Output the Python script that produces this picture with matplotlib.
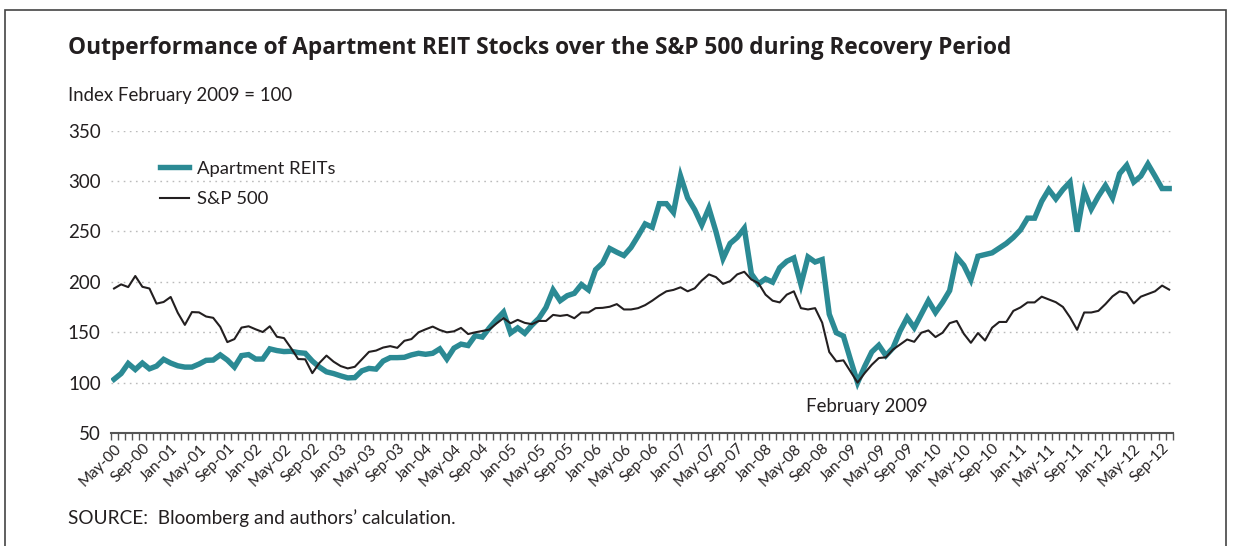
import matplotlib
matplotlib.use("Agg")
import matplotlib.pyplot as plt
from matplotlib.patches import Rectangle
from matplotlib.ticker import FixedLocator

plt.rcParams['font.family'] = ['Lato', 'DejaVu Sans']

title = "Outperformance of Apartment REIT Stocks over the S&P 500 during Recovery Period"
subtitle = "Index February 2009 = 100"
source = "SOURCE:  Bloomberg and authors\u2019 calculation."

# Monthly index values, May-2000 .. Oct-2012 (150 months)
apartment_reits = [
    103.3, 109.0, 119.0, 113.0, 119.4, 113.7, 116.4, 123.1, 119.4, 116.7,
    115.4, 115.4, 118.4, 122.1, 122.4, 127.5, 122.4, 115.4, 126.8, 127.8,
    123.4, 123.4, 133.5, 131.8, 130.8, 131.1, 129.8, 129.1, 121.4, 115.4,
    110.7, 109.0, 106.7, 104.7, 105.0, 111.7, 114.1, 113.4, 121.4, 124.8,
    124.8, 125.1, 127.5, 129.1, 128.1, 129.1, 133.5, 123.4, 134.2, 138.2,
    136.8, 146.6, 145.2, 154.3, 162.6, 170.0, 149.2, 154.3, 148.9, 157.0,
    163.9, 174.6, 192.0, 181.3, 186.3, 188.6, 197.3, 192.0, 212.0, 218.7,
    233.1, 229.4, 226.1, 234.1, 245.5, 257.5, 254.2, 277.6, 277.6, 268.9,
    305.0, 283.3, 271.6, 256.5, 273.2, 249.8, 223.1, 238.1, 244.1, 253.2,
    208.0, 198.0, 203.0, 199.7, 214.0, 220.4, 223.7, 197.3, 224.7, 219.7,
    222.1, 167.9, 149.5, 146.2, 122.7, 100.0, 116.0, 130.4, 137.1, 126.8,
    134.4, 151.2, 164.5, 154.5, 167.9, 181.3, 169.6, 179.6, 191.3, 224.7,
    216.4, 202.0, 225.4, 227.1, 228.8, 233.4, 238.1, 244.1, 251.5, 263.2,
    263.2, 279.9, 291.6, 282.3, 291.6, 299.0, 249.8, 290.0, 272.2, 284.9,
    295.7, 283.3, 307.4, 315.7, 299.0, 305.0, 317.0, 305.0, 292.6, 292.6,
]

sp500 = [
    193.4, 197.5, 194.8, 205.8, 195.1, 193.4, 178.4, 180.0, 185.0, 169.3,
    157.3, 170.0, 169.7, 165.6, 164.3, 155.3, 140.2, 143.2, 154.6, 155.9,
    152.9, 150.2, 155.9, 145.5, 144.2, 134.2, 123.4, 123.1, 109.4, 119.5,
    126.8, 120.8, 116.4, 114.1, 115.7, 123.1, 130.5, 131.8, 134.8, 136.2,
    134.5, 141.5, 143.2, 149.9, 152.9, 155.6, 152.2, 149.9, 150.9, 154.3,
    148.2, 149.9, 151.2, 152.6, 158.6, 164.0, 158.9, 162.3, 159.3, 158.0,
    161.2, 161.2, 167.2, 166.2, 167.2, 163.9, 169.6, 169.6, 173.9, 174.2,
    175.3, 177.9, 172.6, 172.6, 173.9, 176.9, 181.3, 186.3, 190.6, 192.0,
    194.6, 190.6, 193.6, 201.3, 207.4, 204.7, 198.0, 200.7, 207.4, 210.0,
    202.3, 198.7, 187.3, 181.3, 179.6, 187.3, 190.6, 173.9, 172.6, 173.9,
    159.5, 130.4, 121.1, 122.1, 111.0, 100.0, 109.4, 117.7, 124.4, 125.1,
    132.8, 137.8, 142.8, 140.5, 149.5, 151.8, 145.2, 149.5, 159.0, 161.2,
    148.5, 139.5, 149.2, 141.8, 154.5, 160.2, 160.2, 171.2, 174.6, 179.6,
    179.6, 185.3, 182.5, 179.8, 175.1, 164.8, 152.4, 169.6, 169.6, 171.2,
    177.9, 185.6, 190.6, 188.9, 178.6, 185.3, 188.0, 190.6, 196.3, 192.3,
]

tick_labels = [
    "May-00", "Sep-00", "Jan-01", "May-01", "Sep-01", "Jan-02", "May-02", "Sep-02",
    "Jan-03", "May-03", "Sep-03", "Jan-04", "May-04", "Sep-04", "Jan-05", "May-05",
    "Sep-05", "Jan-06", "May-06", "Sep-06", "Jan-07", "May-07", "Sep-07", "Jan-08",
    "May-08", "Sep-08", "Jan-09", "May-09", "Sep-09", "Jan-10", "May-10", "Sep-10",
    "Jan-11", "May-11", "Sep-11", "Jan-12", "May-12", "Sep-12",
]
trough_label = "February 2009"
trough_index = 105  # Feb-2009 position in the monthly series

teal = "#2B8A94"
dark = "#231F20"
text_c = "#231F20"

W, H = 1233, 546
fig = plt.figure(figsize=(W / 100, H / 100), dpi=100)
renderer = fig.canvas.get_renderer()


def fit_width(txt, target_px):
    fig.canvas.draw()
    w = txt.get_window_extent(renderer=renderer).width
    txt.set_fontsize(txt.get_fontsize() * target_px / w)


# outer frame
fig.patches.append(Rectangle((5 / W, -0.05), (1226 - 5) / W, 1.05 - 10 / H,
                             transform=fig.transFigure, fill=False,
                             edgecolor="#444444", linewidth=1.2))

ax = fig.add_axes([110.5 / W, (H - 433) / H, (1172.7 - 110.5) / W, (433 - 130.7) / H])
x = list(range(len(sp500)))
ax.plot(x, apartment_reits, color=teal, lw=3.9, solid_joinstyle="miter",
        label="Apartment REITs", zorder=3)
ax.plot(x, sp500, color=dark, lw=1.5, label="S&P 500", zorder=4)

ax.set_xlim(-0.5, len(sp500) - 0.5)
ax.set_ylim(50, 350)
ax.set_yticks([50, 100, 150, 200, 250, 300, 350])
ax.tick_params(axis="y", length=0, pad=7, labelsize=13.5, labelcolor=text_c)
for v in [100, 150, 200, 250, 300, 350]:
    ax.axhline(v, color="#BBBBBB", lw=1.0, ls=(0, (1.2, 3.2)), zorder=1)

ax.xaxis.set_major_locator(FixedLocator(list(range(0, len(sp500), 4))))
ax.set_xticklabels(tick_labels, rotation=45, ha="right", rotation_mode="anchor",
                   fontsize=11, color=text_c)
ax.xaxis.set_minor_locator(FixedLocator([i - 0.5 for i in range(len(sp500) + 1)]))
ax.tick_params(axis="x", which="major", length=0, pad=6)
ax.tick_params(axis="x", which="minor", length=5, width=1, color="#555555", direction="out")

for s in ["left", "right", "top"]:
    ax.spines[s].set_visible(False)
ax.spines["bottom"].set_color("#555555")
ax.spines["bottom"].set_linewidth(1.5)

leg = ax.legend(loc="upper left", bbox_to_anchor=(0.031, 0.955), frameon=False,
                fontsize=13.3, handlelength=1.55, handletextpad=0.45, labelspacing=0.78,
                labelcolor=text_c)

ann = ax.annotate(trough_label, xy=(trough_index, 100), xytext=(trough_index + 1.3, 76),
                  ha="center", va="center", fontsize=13.5, color=text_c)

t_title = fig.text(68 / W, 1 - 48 / H, title, fontsize=16, fontweight="bold",
                   family=['Open Sans', 'DejaVu Sans'],
                   color=text_c, va="center", ha="left")
t_sub = fig.text(68 / W, 1 - 96 / H, subtitle, fontsize=13.4, color=text_c, va="center", ha="left")
t_src = fig.text(68 / W, 1 - 518 / H, source, fontsize=13.6, color=text_c, va="center", ha="left")

fit_width(t_title, 944)
fit_width(t_sub, 224)
fit_width(t_src, 387)
fit_width(ann, 122)

fig.savefig("out.png", dpi=100, facecolor="white")
